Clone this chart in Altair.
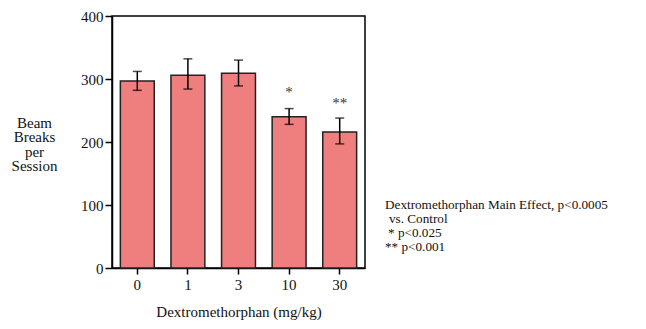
import altair as alt
import pandas as pd

doses = ["0", "1", "3", "10", "30"]
means = [297, 306, 309, 240, 216]
upper = [312, 332, 330, 253, 238]
lower = [282, 284, 289, 228, 197]
stars = ["", "", "", "*", "**"]
star_pos = [None, None, None, 279, 262]
y_ticks = [0, 100, 200, 300, 400]
y_title = ["Beam", "Breaks", "per", "Session"]
x_title = "Dextromethorphan (mg/kg)"
note_lines = [
    "Dextromethorphan Main Effect, p<0.0005",
    "vs. Control",
    "* p<0.025",
    "** p<0.001",
]

df = pd.DataFrame({"dose": doses, "mean": means, "hi": upper, "lo": lower,
                   "star": stars, "star_y": star_pos})

FONT = "Liberation Serif"
FS = 15

x = alt.X("dose:N", sort=doses,
          scale=alt.Scale(paddingInner=0.33),
          axis=alt.Axis(title=x_title, labelAngle=0, titleFontWeight="normal",
                        titlePadding=12, tickSize=6, labelPadding=3))
y_scale = alt.Scale(domain=[0, 400], nice=False)

bars = alt.Chart(df).mark_bar(color="#EF7E7E", stroke="#222222", strokeWidth=1.5).encode(
    x=x,
    y=alt.Y("mean:Q", scale=y_scale,
            axis=alt.Axis(values=y_ticks, title=y_title, titleAngle=0, titleAlign="center",
                          titleBaseline="alphabetic", titleX=-78, titleY=111,
                          titleFontWeight="normal", titleLineHeight=14.5,
                          tickSize=7, labelPadding=2, grid=False)),
)

rules = alt.Chart(df).mark_rule(color="black", strokeWidth=1.5).encode(
    x=alt.X("dose:N", sort=doses), y="lo:Q", y2="hi:Q")
cap_hi = alt.Chart(df).mark_tick(color="black", size=9, thickness=1.5, orient="horizontal").encode(
    x=alt.X("dose:N", sort=doses), y="hi:Q")
cap_lo = alt.Chart(df).mark_tick(color="black", size=9, thickness=1.5, orient="horizontal").encode(
    x=alt.X("dose:N", sort=doses), y="lo:Q")

star_text = alt.Chart(df).transform_filter("datum.star != ''").mark_text(
    font=FONT, fontSize=15, color="#333333", baseline="middle").encode(
    x=alt.X("dose:N", sort=doses), y="star_y:Q", text="star:N")

note_x = [273, 277, 276, 273]
note_y = [189, 203, 217, 231]
notes = [
    alt.Chart(pd.DataFrame({"t": [line]})).mark_text(
        font=FONT, fontSize=13.2, align="left", baseline="middle", color="#111111").encode(
        x=alt.value(nx), y=alt.value(ny), text="t:N")
    for line, nx, ny in zip(note_lines, note_x, note_y)
]

chart = alt.layer(bars, rules, cap_hi, cap_lo, star_text, *notes).properties(
    width=253, height=252,
    autosize=alt.AutoSizeParams(type="none"),
    padding={"left": 104, "top": 8, "right": 273, "bottom": 53},
).configure_view(stroke="black", strokeWidth=1.5).configure_axis(
    domainColor="black", domainWidth=1.5, tickColor="black", tickWidth=1.5,
    labelFont=FONT, titleFont=FONT, labelFontSize=FS, titleFontSize=FS,
    labelColor="#111111", titleColor="#111111",
).configure_text(font=FONT)

chart.save("out.html", embed_options={"renderer": "svg", "actions": False})
